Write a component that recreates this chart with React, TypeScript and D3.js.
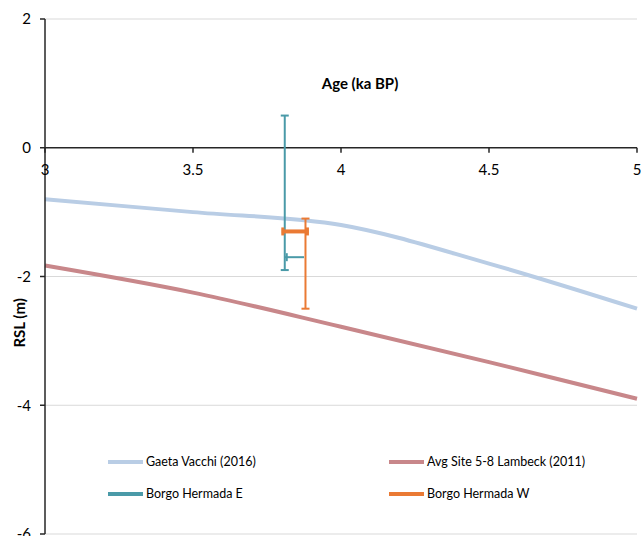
import React from "react";
import * as d3 from "d3";

const W = 641;
const H = 536;

const ageGaeta = [3, 3.5, 4, 4.5, 5];
const rslGaeta = [-0.8, -1.0, -1.2, -1.8, -2.5];

const ageLambeck = [3, 3.5, 4, 4.5, 5];
const rslLambeck = [-1.83, -2.25, -2.78, -3.33, -3.9];

// Borgo Hermada E: vertical error bar and horizontal error bar
const bhE_x = 3.81;
const bhE_yTop = 0.5;
const bhE_yBottom = -1.9;
const bhE_hY = -1.7;
const bhE_hX0 = 3.81;
const bhE_hX1 = 3.875;

// Borgo Hermada W
const bhW_x = 3.88;
const bhW_yTop = -1.1;
const bhW_yBottom = -2.5;
const bhW_hY = -1.3;
const bhW_hX0 = 3.8;
const bhW_hX1 = 3.89;

const xTicks = [3, 3.5, 4, 4.5, 5];
const yTicks = [2, 0, -2, -4, -6];
const gridY = [2, -2, -4, -6];

const legendLabels = [
  "Gaeta Vacchi (2016)",
  "Avg Site 5-8 Lambeck (2011)",
  "Borgo Hermada E",
  "Borgo Hermada W",
];

const C_GAETA = "#b9cde5";
const C_LAMBECK = "#c8878a";
const C_E = "#4a9aa8";
const C_W = "#ea7a34";
const AXIS = "#262626";
const FONT = "Lato, 'Open Sans', sans-serif";

export default function App() {
  const x = d3.scaleLinear().domain([3, 5]).range([45, 637]);
  const y = d3.scaleLinear().domain([2, -6]).range([19, 534]);

  const line = d3
    .line<[number, number]>()
    .x((d) => x(d[0]))
    .y((d) => y(d[1]))
    .curve(d3.curveCatmullRom.alpha(0.5));

  const gaetaPts = ageGaeta.map((a, i) => [a, rslGaeta[i]] as [number, number]);
  const lambeckPts = ageLambeck.map((a, i) => [a, rslLambeck[i]] as [number, number]);

  const cap = 4;
  const legendColors = [C_GAETA, C_LAMBECK, C_E, C_W];
  const legendPos = [
    [108, 462],
    [389, 462],
    [108, 494],
    [389, 494],
  ];

  return (
    <svg
      width={W}
      height={H}
      style={{ position: "absolute", left: 0, top: 0, background: "#fff" }}
      fontFamily={FONT}
    >
      {/* gridlines */}
      {gridY.map((v) => (
        <line key={v} x1={x(3)} x2={x(5)} y1={y(v)} y2={y(v)} stroke="#d9d9d9" strokeWidth={1} />
      ))}

      {/* series lines */}
      <path d={line(gaetaPts) || ""} fill="none" stroke={C_GAETA} strokeWidth={4} />
      <path d={line(lambeckPts) || ""} fill="none" stroke={C_LAMBECK} strokeWidth={4} />

      {/* axes */}
      <line x1={x(3)} x2={x(3)} y1={y(2)} y2={y(-6)} stroke={AXIS} strokeWidth={1.5} />
      {yTicks.map((v) => (
        <g key={v}>
          <line x1={x(3) - 5} x2={x(3)} y1={y(v)} y2={y(v)} stroke={AXIS} strokeWidth={1.5} />
          <text x={31} y={y(v)} dy="0.35em" textAnchor="end" fontSize={15} fill="#000">
            {v}
          </text>
        </g>
      ))}
      <line x1={x(3)} x2={x(5)} y1={y(0)} y2={y(0)} stroke={AXIS} strokeWidth={1.5} />
      {xTicks.map((v) => (
        <g key={v}>
          <line x1={x(v)} x2={x(v)} y1={y(0)} y2={y(0) + 5} stroke={AXIS} strokeWidth={1.5} />
          <text x={x(v)} y={y(0) + 22} dy="0.35em" textAnchor="middle" fontSize={15} fill="#000">
            {v}
          </text>
        </g>
      ))}

      {/* error bars: Borgo Hermada E */}
      <g stroke={C_E} strokeWidth={2}>
        <line x1={x(bhE_x)} x2={x(bhE_x)} y1={y(bhE_yTop)} y2={y(bhE_yBottom)} />
        <line x1={x(bhE_x) - cap} x2={x(bhE_x) + cap} y1={y(bhE_yTop)} y2={y(bhE_yTop)} />
        <line x1={x(bhE_x) - cap} x2={x(bhE_x) + cap} y1={y(bhE_yBottom)} y2={y(bhE_yBottom)} />
        <line x1={x(bhE_hX0)} x2={x(bhE_hX1)} y1={y(bhE_hY)} y2={y(bhE_hY)} />
        <line x1={x(bhE_hX0) + 2} x2={x(bhE_hX0) + 2} y1={y(bhE_hY) - cap} y2={y(bhE_hY) + cap} />
      </g>

      {/* error bars: Borgo Hermada W */}
      <g stroke={C_W}>
        <line x1={x(bhW_x)} x2={x(bhW_x)} y1={y(bhW_yTop)} y2={y(bhW_yBottom)} strokeWidth={2} />
        <line x1={x(bhW_x) - cap} x2={x(bhW_x) + cap} y1={y(bhW_yTop)} y2={y(bhW_yTop)} strokeWidth={2} />
        <line x1={x(bhW_x) - cap} x2={x(bhW_x) + cap} y1={y(bhW_yBottom)} y2={y(bhW_yBottom)} strokeWidth={2} />
        <line x1={x(bhW_hX0)} x2={x(bhW_hX1)} y1={y(bhW_hY)} y2={y(bhW_hY)} strokeWidth={4} />
        <line x1={x(bhW_hX0) + 1} x2={x(bhW_hX0) + 1} y1={y(bhW_hY) - cap} y2={y(bhW_hY) + cap} strokeWidth={3} />
        <line x1={x(bhW_hX1) - 1} x2={x(bhW_hX1) - 1} y1={y(bhW_hY) - cap} y2={y(bhW_hY) + cap} strokeWidth={3} />
      </g>

      {/* axis titles */}
      <text x={360} y={84} dy="0.35em" textAnchor="middle" fontSize={15} fontWeight="bold" fill="#000">
        Age (ka BP)
      </text>
      <text
        transform={`translate(20,${y(-2.72)}) rotate(-90)`}
        dy="0.35em"
        textAnchor="middle"
        fontSize={15}
        fontWeight="bold"
        fill="#000"
      >
        RSL (m)
      </text>

      {/* legend */}
      {legendLabels.map((lab, i) => (
        <g key={lab}>
          <line
            x1={legendPos[i][0]}
            x2={legendPos[i][0] + 35}
            y1={legendPos[i][1]}
            y2={legendPos[i][1]}
            stroke={legendColors[i]}
            strokeWidth={4}
          />
          <text x={legendPos[i][0] + 38} y={legendPos[i][1]} dy="0.35em" fontSize={12.5} fill="#000">
            {lab}
          </text>
        </g>
      ))}
    </svg>
  );
}
